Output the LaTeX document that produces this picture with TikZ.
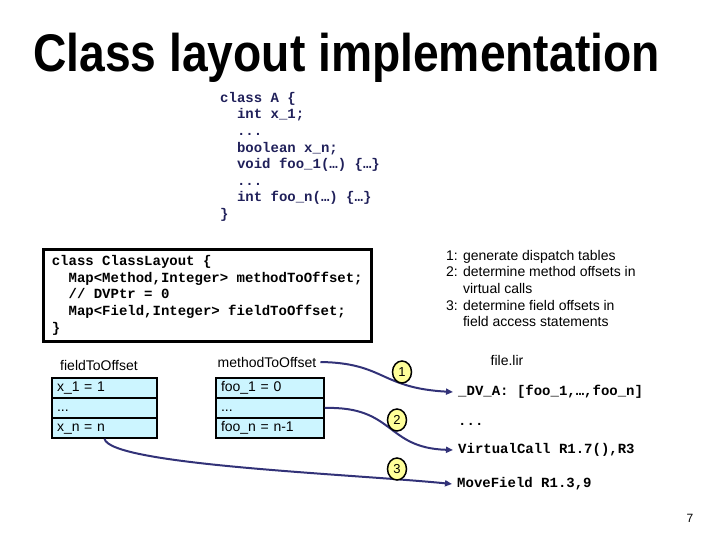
\documentclass[tikz,border=0pt]{standalone}
\usepackage{fontspec}
\usepackage{graphicx}
\usetikzlibrary{shapes.geometric,arrows.meta}
\setmainfont{Liberation Sans}
\newfontfamily\codefont{Liberation Mono}
\definecolor{navy}{RGB}{32,32,90}
\definecolor{arrowc}{RGB}{50,50,120}
\definecolor{cellc}{RGB}{204,245,255}
\definecolor{circc}{RGB}{255,255,153}
\begin{document}
\begin{tikzpicture}[x=1pt,y=-1pt,
  code/.style={font=\codefont\bfseries\fontsize{14}{16.6}\selectfont, inner sep=0pt, align=left},
  sans/.style={font=\fontsize{14}{16.6}\selectfont},
  cell/.style={draw, line width=1.5pt, fill=cellc, minimum height=20pt, text width=95pt, align=left,
    inner xsep=5pt, inner ysep=0pt, text height=10pt, text depth=3pt, font=\fontsize{14}{16}\selectfont},
  mcell/.style={cell, text width=98pt},
  circ/.style={ellipse, draw=black, line width=1.5pt, fill=circc, minimum width=19pt, minimum height=22pt,
    inner sep=0pt, font=\fontsize{13}{14}\selectfont},
  conn/.style={draw=arrowc, line width=2pt, -{Triangle[length=7pt,width=6pt]}},
  rcode/.style={font=\codefont\bfseries\fontsize{14}{16}\selectfont, anchor=west, inner xsep=5pt, inner ysep=0pt,
    text height=10pt, text depth=3pt}
]
\useasboundingbox (0,0) rectangle (720,540);

\node[anchor=base west, inner sep=0pt] (title) at (33,72)
  {\scalebox{0.872}[1]{\fontsize{53}{60}\selectfont\bfseries Class layout implementation}};

\node[code, text=navy, anchor=north west] (classA) at (220,92)
  {class A \{\\
   \hphantom{xx}int x\_1;\\
   \hphantom{xx}...\\
   \hphantom{xx}boolean x\_n;\\
   \hphantom{xx}void foo\_1(…) \{…\}\\
   \hphantom{xx}...\\
   \hphantom{xx}int foo\_n(…) \{…\}\\
   \}};

\node[draw, line width=2.5pt, anchor=north west, minimum width=328pt, minimum height=92pt,
      inner xsep=8pt, align=left,
      font=\codefont\bfseries\fontsize{14}{16.6}\selectfont] (clbox) at (42,248)
  {class ClassLayout \{\\
   \hphantom{xx}Map<Method,Integer> methodToOffset;\\
   \hphantom{xx}// DVPtr = 0\\
   \hphantom{xx}Map<Field,Integer> fieldToOffset;\\
   \}};

\node[sans, anchor=north west, align=left, inner sep=0pt] (steps) at (446,250)
  {1: generate dispatch tables\\
   2: determine method offsets in\\
   \hphantom{2: }virtual calls\\
   3: determine field offsets in\\
   \hphantom{3: }field access statements};

\node[sans] (flabel) at (99,365) {fieldToOffset};
\node[sans, inner xsep=4pt] (mlabel) at (267,362) {methodToOffset};

\node[cell] (x1) at (104.5,388) {x\_1 = 1};
\node[cell] (xdots) at (104.5,408) {...};
\node[cell] (xn) at (104.5,428) {x\_n = n};

\node[mcell] (f1) at (270,388) {foo\_1 = 0};
\node[mcell] (fdots) at (270,408) {...};
\node[mcell] (fn) at (270,428) {foo\_n = n-1};

\node[sans] (filelir) at (507,360) {file.lir};
\node[rcode] (dv) at (453,392) {\_DV\_A: [foo\_1,…,foo\_n]};
\node[rcode] (rdots) at (453,422) {...};
\node[rcode] (vc) at (453,450) {VirtualCall R1.7(),R3};
\node[rcode] (mf) at (452,484) {MoveField R1.3,9};

\draw[conn] (mlabel.east) .. controls (385,363) and (380,388) .. (dv.west);
\draw[conn] (fdots.east) .. controls (395,406) and (385,448) .. (vc.west);
\draw[conn] (xn.south) .. controls (110,465) and (352,474) .. (mf.west);

\node[circ] (c1) at (402,372) {1};
\node[circ] (c2) at (397,420) {2};
\node[circ] (c3) at (397,469) {3};

\node[font=\fontsize{12}{14}\selectfont] (pnum) at (690,518) {7};
\end{tikzpicture}
\end{document}
